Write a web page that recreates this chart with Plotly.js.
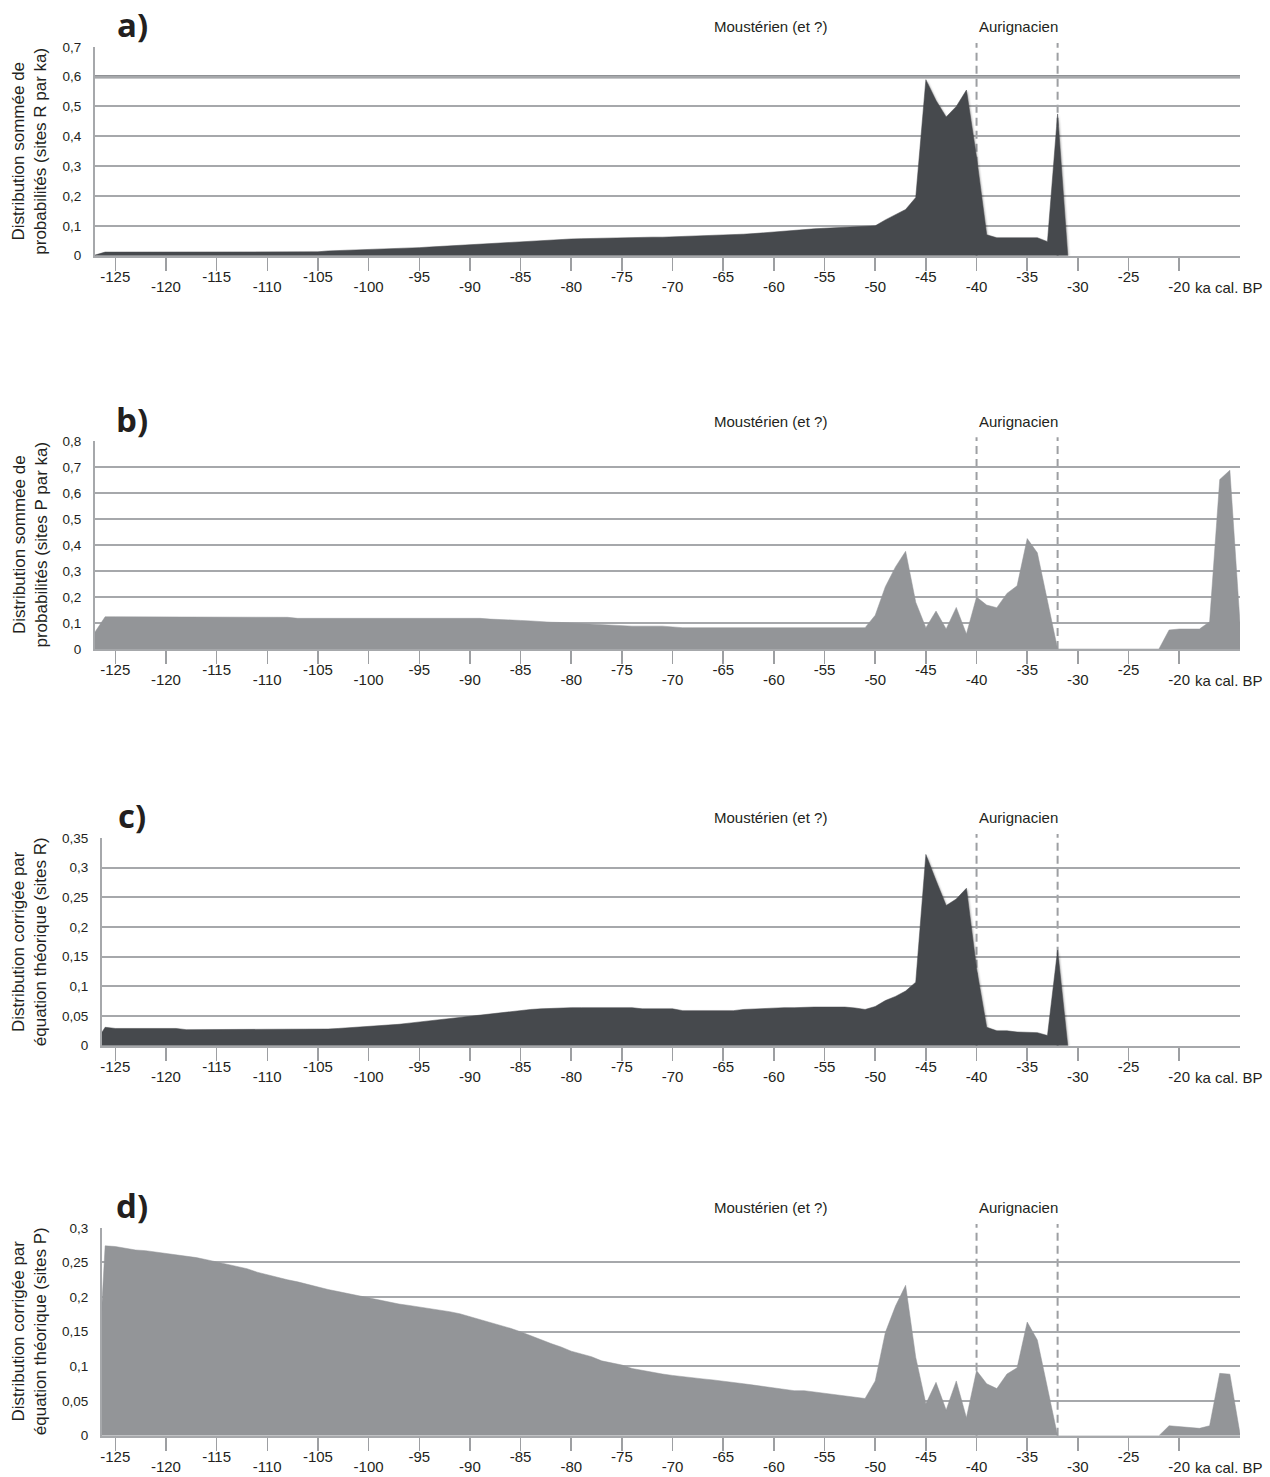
<!DOCTYPE html>
<html>
<head>
<meta charset="utf-8">
<script src="https://cdn.plot.ly/plotly-3.0.1.min.js"></script>
<style>
  html, body { margin: 0; padding: 0; background: #ffffff; }
  #chart { width: 1270px; height: 1477px; }
</style>
</head>
<body>
<div id="chart"></div>
<script>
// ---------------- DATA ----------------
// years (ka cal. BP, negative = before present), one value per ka
const years = [
  -127,-126,-125,-124,-123,-122,-121,-120,-119,-118,
  -117,-116,-115,-114,-113,-112,-111,-110,-109,-108,
  -107,-106,-105,-104,-103,-102,-101,-100,-99,-98,
  -97,-96,-95,-94,-93,-92,-91,-90,-89,-88,
  -87,-86,-85,-84,-83,-82,-81,-80,-79,-78,
  -77,-76,-75,-74,-73,-72,-71,-70,-69,-68,
  -67,-66,-65,-64,-63,-62,-61,-60,-59,-58,
  -57,-56,-55,-54,-53,-52,-51,-50,-49,-48,
  -47,-46,-45,-44,-43,-42,-41,-40,-39,-38,
  -37,-36,-35,-34,-33,-32,-31,-30,-29,-28,
  -27,-26,-25,-24,-23,-22,-21,-20,-19,-18,
  -17,-16,-15,-14
];

// a) Distribution sommée de probabilités (sites R par ka)
const sumR = [
  0.002,0.012,0.012,0.012,0.012,0.012,0.012,0.012,0.012,0.012,
  0.012,0.012,0.012,0.012,0.012,0.012,0.012,0.012,0.012,0.012,
  0.012,0.013,0.013,0.016,0.017,0.018,0.019,0.020,0.021,0.022,
  0.023,0.025,0.027,0.029,0.031,0.033,0.035,0.037,0.039,0.041,
  0.044,0.046,0.048,0.050,0.051,0.053,0.055,0.056,0.057,0.058,
  0.059,0.060,0.060,0.061,0.061,0.062,0.062,0.063,0.064,0.065,
  0.066,0.067,0.068,0.070,0.072,0.074,0.077,0.080,0.083,0.086,
  0.088,0.090,0.092,0.094,0.096,0.097,0.098,0.100,0.120,0.138,
  0.155,0.195,0.590,0.520,0.465,0.500,0.555,0.330,0.070,0.060,
  0.060,0.060,0.060,0.060,0.047,0.475,0,null,null,null,
  null,null,null,null,null,null,null,null,null,null,
  null,null,null,null
];

// b) Distribution sommée de probabilités (sites P par ka)
const sumP = [
  0.065,0.124,0.124,0.124,0.124,0.124,0.124,0.124,0.124,0.124,
  0.124,0.124,0.124,0.124,0.124,0.124,0.124,0.124,0.124,0.122,
  0.118,0.118,0.118,0.118,0.118,0.118,0.118,0.118,0.118,0.118,
  0.118,0.118,0.118,0.118,0.118,0.118,0.118,0.118,0.118,0.115,
  0.114,0.112,0.110,0.108,0.105,0.103,0.102,0.100,0.098,0.095,
  0.092,0.090,0.089,0.088,0.088,0.088,0.088,0.085,0.082,0.082,
  0.082,0.082,0.082,0.082,0.082,0.082,0.082,0.082,0.082,0.082,
  0.082,0.082,0.082,0.082,0.082,0.082,0.082,0.130,0.240,0.316,
  0.376,0.180,0.082,0.146,0.077,0.160,0.058,0.200,0.169,0.159,
  0.214,0.243,0.425,0.370,0.190,0,0,0,0,0,
  0,0,0,0,0,0,0.073,0.077,0.077,0.077,
  0.105,0.652,0.688,0.100
];

// c) Distribution corrigée par équation théorique (sites R)
const corrR = [
  0.004,0.031,0.029,0.029,0.029,0.029,0.029,0.029,0.029,0.027,
  0.027,0.027,0.027,0.027,0.027,0.027,0.027,0.027,0.027,0.027,
  0.027,0.027,0.027,0.028,0.029,0.030,0.031,0.032,0.033,0.035,
  0.036,0.038,0.040,0.042,0.044,0.046,0.048,0.050,0.052,0.054,
  0.056,0.058,0.060,0.061,0.062,0.063,0.064,0.064,0.064,0.064,
  0.064,0.064,0.064,0.064,0.062,0.062,0.062,0.062,0.059,0.059,
  0.059,0.059,0.059,0.059,0.061,0.062,0.062,0.063,0.064,0.064,
  0.065,0.065,0.065,0.065,0.065,0.0635,0.061,0.066,0.076,0.083,
  0.092,0.107,0.322,0.278,0.236,0.247,0.265,0.130,0.031,0.025,
  0.025,0.023,0.0225,0.022,0.017,0.161,0,null,null,null,
  null,null,null,null,null,null,null,null,null,null,
  null,null,null,null
];

// d) Distribution corrigée par équation théorique (sites P)
const corrP = [
  0.010,0.274,0.273,0.270,0.268,0.267,0.265,0.264,0.262,0.260,
  0.257,0.254,0.251,0.248,0.245,0.241,0.236,0.232,0.229,0.225,
  0.222,0.218,0.215,0.211,0.208,0.205,0.201,0.198,0.195,0.193,
  0.190,0.188,0.186,0.184,0.182,0.179,0.176,0.172,0.168,0.164,
  0.160,0.155,0.150,0.144,0.138,0.133,0.128,0.122,0.118,0.114,
  0.108,0.105,0.102,0.097,0.094,0.092,0.089,0.087,0.085,0.0835,
  0.082,0.0805,0.079,0.077,0.075,0.073,0.071,0.069,0.066,0.065,
  0.065,0.063,0.061,0.059,0.057,0.0552,0.0537,0.079,0.149,0.187,
  0.217,0.113,0.046,0.077,0.037,0.079,0.026,0.094,0.075,0.068,
  0.089,0.098,0.164,0.138,0.070,0,0,0,0,0,
  0,0,0,0,0,0,0.0144,0.013,0.0125,0.0106,
  0.0144,0.090,0.0888,0.003
];

// x tick labels (upper row / lower row)
const upperTicks = [-125,-115,-105,-95,-85,-75,-65,-55,-45,-35,-25];
const upperLabels = ['-125','-115','-105','-95','-85','-75','-65','-55','-45','-35','-25'];
const lowerTicks = [-120,-110,-100,-90,-80,-70,-60,-50,-40,-30,-20];
const lowerLabels = ['-120','-110','-100','-90','-80','-70','-60','-50','-40','-30','-20'];
const xUnitLabel = 'ka cal. BP';

// y ticks per panel
const yTicksA = [0,0.1,0.2,0.3,0.4,0.5,0.6,0.7];
const yLabelsA = ['0','0,1','0,2','0,3','0,4','0,5','0,6','0,7'];
const yTicksB = [0,0.1,0.2,0.3,0.4,0.5,0.6,0.7,0.8];
const yLabelsB = ['0','0,1','0,2','0,3','0,4','0,5','0,6','0,7','0,8'];
const yTicksC = [0,0.05,0.1,0.15,0.2,0.25,0.3,0.35];
const yLabelsC = ['0','0,05','0,1','0,15','0,2','0,25','0,3','0,35'];
const yTicksD = [0,0.05,0.1,0.15,0.2,0.25,0.3];
const yLabelsD = ['0','0,05','0,1','0,15','0,2','0,25','0,3'];

// period boundaries and labels
const periodBounds = [-40, -32];
const periodNames = ['Moustérien (et ?)', 'Aurignacien'];
const refLineA = 0.6;

const panelLetters = ['a)', 'b)', 'c)', 'd)'];
const yTitles = [
  'Distribution sommée de<br>probabilités (sites R par ka)',
  'Distribution sommée de<br>probabilités (sites P par ka)',
  'Distribution corrigée par<br>équation théorique (sites R)',
  'Distribution corrigée par<br>équation théorique (sites P)'
];

// ---------------- LAYOUT ----------------
const W = 1270, H = 1477;
const px = x => x / W;
const py = y => 1 - y / H;

const DARK = '#46494d';
const LIGHT = '#939598';
const GRID = '#a6a8ab';
const TXT = '#231f20';
const FONT = 'Arial, "Liberation Sans", sans-serif';
const XFS = 15;

const panels = [
  {vals: sumR,  color: DARK,  top: 46.7,  bottom: 255.7,  left: 95,  xmin: -127,    ymax: 0.7,  yt: yTicksA, yl: yLabelsA},
  {vals: sumP,  color: LIGHT, top: 441,   bottom: 649,    left: 95,  xmin: -127,    ymax: 0.8,  yt: yTicksB, yl: yLabelsB},
  {vals: corrR, color: DARK,  top: 837.7, bottom: 1045.7, left: 102, xmin: -126.31, ymax: 0.35, yt: yTicksC, yl: yLabelsC},
  {vals: corrP, color: LIGHT, top: 1227.7,bottom: 1435.7, left: 102, xmin: -126.31, ymax: 0.3,  yt: yTicksD, yl: yLabelsD}
];
const RIGHT = 1240, XMAX = -14;

const traces = [];
const layout = {
  width: W, height: H,
  margin: {l: 0, r: 0, t: 0, b: 0},
  paper_bgcolor: '#ffffff',
  plot_bgcolor: 'rgba(0,0,0,0)',
  showlegend: false,
  separators: ', ',
  font: {family: FONT, color: TXT},
  shapes: [],
  annotations: []
};

const allTicks = upperTicks.concat(lowerTicks).sort((a, b) => a - b);
const allTickText = allTicks.map(v => {
  const i = upperTicks.indexOf(v);
  return i >= 0 ? upperLabels[i] : '';
});

panels.forEach((p, i) => {
  const n = i + 1;
  const xa = 'x' + (n === 1 ? '' : n);
  const ya = 'y' + (n === 1 ? '' : n);
  const xo = 'x' + (n + 4);
  const domX = [px(p.left), px(RIGHT)];
  const domY = [py(p.bottom), py(p.top)];

  traces.push({
    x: years, y: p.vals, type: 'scatter', mode: 'lines',
    fill: 'tozeroy', fillcolor: p.color,
    line: {color: p.color, width: 0.5},
    xaxis: xa, yaxis: ya, hoverinfo: 'skip', connectgaps: false
  });
  // carrier trace so the lower-row label axis is drawn (no visible marks)
  traces.push({
    x: [lowerTicks[0]], y: [null], type: 'scatter', mode: 'lines',
    xaxis: xo, yaxis: ya, hoverinfo: 'skip', line: {width: 0}
  });

  layout['xaxis' + (n === 1 ? '' : n)] = {
    domain: domX, range: [p.xmin, XMAX], anchor: ya,
    tickmode: 'array', tickvals: allTicks, ticktext: allTickText,
    ticks: 'outside', ticklen: 13, tickwidth: 1.5, tickcolor: '#9d9fa2',
    ticklabelstandoff: -7,
    showline: true, linecolor: GRID, linewidth: 2,
    showgrid: false, zeroline: false, fixedrange: true,
    tickfont: {family: FONT, size: XFS, color: TXT}
  };
  layout['xaxis' + (n + 4)] = {
    overlaying: xa, anchor: ya, range: [p.xmin, XMAX],
    tickmode: 'array', tickvals: lowerTicks, ticktext: lowerLabels,
    ticks: 'outside', ticklen: 13, tickcolor: 'rgba(0,0,0,0)',
    ticklabelstandoff: 4,
    showline: false, showgrid: false, zeroline: false, fixedrange: true,
    tickfont: {family: FONT, size: XFS, color: TXT}
  };
  layout['yaxis' + (n === 1 ? '' : n)] = {
    domain: domY, range: [0, p.ymax * 1.0005], anchor: xa,
    tickmode: 'array', tickvals: p.yt, ticktext: p.yl,
    ticks: '', ticklabelstandoff: 9,
    showgrid: true, gridcolor: GRID, gridwidth: 2,
    showline: true, linecolor: GRID, linewidth: 2,
    zeroline: false, fixedrange: true,
    tickfont: {family: FONT, size: 13.5, color: TXT}
  };

  // period dashed boundaries
  periodBounds.forEach(b => {
    layout.shapes.push({
      type: 'line', xref: xa, yref: ya + ' domain',
      x0: b, x1: b, y0: 0, y1: 1.018,
      line: {color: '#9d9fa2', width: 2, dash: '8px,5px'},
      layer: 'below'
    });
  });

  // panel letter
  layout.annotations.push({
    xref: 'paper', yref: 'paper', x: px(132), y: py(p.top - 22),
    xanchor: 'center', yanchor: 'middle', showarrow: false,
    text: '<b>' + panelLetters[i] + '</b>',
    font: {family: '"Open Sans", "Noto Sans", sans-serif', size: 33, color: TXT}
  });
  // period labels
  layout.annotations.push({
    xref: 'paper', yref: 'paper', x: px(770), y: py(p.top - 20),
    xanchor: 'center', yanchor: 'middle', showarrow: false,
    text: periodNames[0], font: {family: FONT, size: 15, color: TXT}
  });
  layout.annotations.push({
    xref: 'paper', yref: 'paper', x: px(1018), y: py(p.top - 20),
    xanchor: 'center', yanchor: 'middle', showarrow: false,
    text: periodNames[1], font: {family: FONT, size: 15, color: TXT}
  });
  // y title
  layout.annotations.push({
    xref: 'paper', yref: 'paper', x: px(29.5), y: py((p.top + p.bottom) / 2),
    xanchor: 'center', yanchor: 'middle', showarrow: false, textangle: -90,
    text: yTitles[i], font: {family: FONT, size: 17, color: TXT}
  });
  // unit label after -20
  layout.annotations.push({
    xref: 'paper', yref: 'paper', x: px(1193), y: py(p.bottom + 31.5),
    xanchor: 'left', yanchor: 'middle', showarrow: false,
    text: xUnitLabel, font: {family: FONT, size: XFS, color: TXT}
  });
});

// heavier reference line at 0.6 in panel a
layout.shapes.push({
  type: 'line', xref: 'x domain', yref: 'y',
  x0: 0, x1: 1, y0: refLineA, y1: refLineA,
  line: {color: '#8f9195', width: 3.5}, layer: 'below'
});

Plotly.newPlot('chart', traces, layout, {displayModeBar: false, staticPlot: true}).then(gd => {
  // soft drop shadow on the dark areas, as in the original figure
  gd.querySelectorAll('path.js-fill').forEach(path => {
    const f = (path.style.fill || '').replace(/\s/g, '');
    if (f === 'rgb(70,73,77)') {
      path.style.filter = 'drop-shadow(1.5px 1.5px 1.2px rgba(0,0,0,0.35))';
    }
  });
});
</script>
</body>
</html>
